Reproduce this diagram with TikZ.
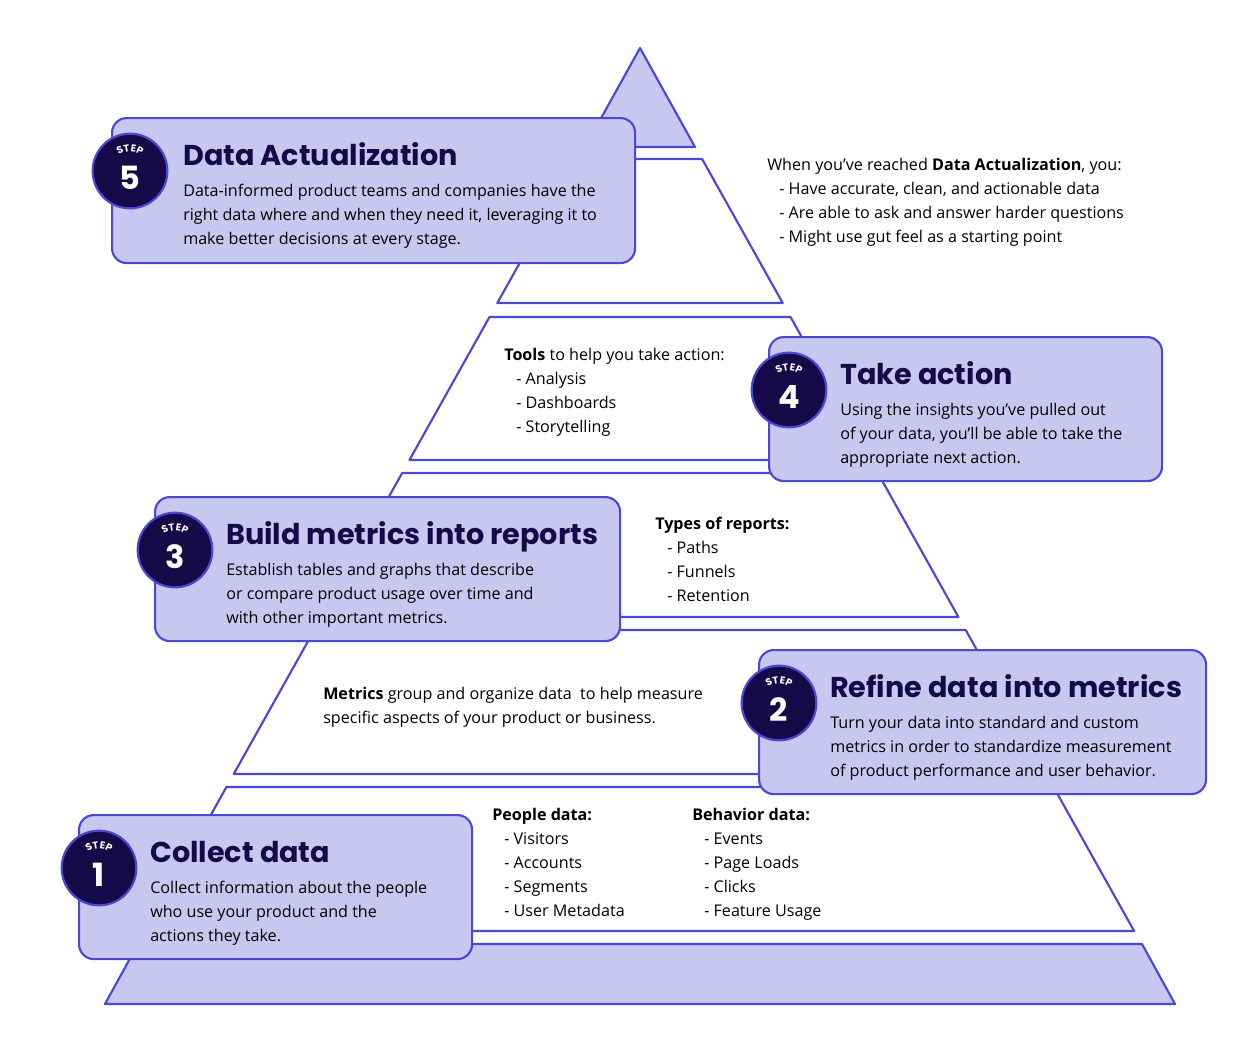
\documentclass[tikz,border=0pt]{standalone}
\usepackage{fontspec}
\setmainfont{Open Sans}
\newfontfamily\headfont{Poppins}
\usetikzlibrary{positioning}
\definecolor{lavender}{HTML}{C8C7F0}
\definecolor{edgeblue}{HTML}{4B48D6}
\definecolor{inkblue}{HTML}{150A47}

\begin{document}
\begin{tikzpicture}[x=0.75pt,y=-0.75pt,
    band/.style={draw=edgeblue, line width=1.6pt, line join=round},
    card/.style={draw=edgeblue, fill=lavender, line width=1.6pt, rounded corners=11pt,
        anchor=north west, minimum height=108pt, inner sep=0pt},
    badge/.style={circle, draw=edgeblue, fill=inkblue, line width=1.6pt, minimum size=56pt, inner sep=0pt},
    stepnum/.style={text=white, font=\headfont\bfseries\fontsize{24}{24}\selectfont},
    steplbl/.style={text=white, inner sep=0pt, font=\headfont\bfseries\fontsize{7.5}{7.5}\selectfont},
    title/.style={anchor=base west, inner sep=0pt, text=inkblue, font=\headfont\bfseries\fontsize{21.5}{21.5}\selectfont},
    body/.style={anchor=base west, inner sep=0pt, align=left, font=\fontsize{12.1}{18}\selectfont}
]
\useasboundingbox (0,0) rectangle (1246,1058);

% Pyramid
\fill[lavender, band] (640,48) -- (585,147) -- (695,147) -- cycle;
\foreach \ta/\tb in {159/303,317/460,473/617,630/774,787/931}
    \draw[band] ({640-0.5596*(\ta-48)},\ta) -- ({640+0.5596*(\ta-48)},\ta)
        -- ({640+0.5596*(\tb-48)},\tb) -- ({640-0.5596*(\tb-48)},\tb) -- cycle;
\fill[lavender, band] (138,944) -- (1142,944) -- (1175,1004) -- (105,1004) -- cycle;

% Side notes (placed at the baseline of their last line)
\node[body] (note5) at (767,242) {When you’ve reached \textbf{Data Actualization}, you:\\
    \hspace*{9pt}- Have accurate, clean, and actionable data\\
    \hspace*{9pt}- Are able to ask and answer harder questions\\
    \hspace*{9pt}- Might use gut feel as a starting point};
\node[body] (note4) at (504,432) {\textbf{Tools} to help you take action:\\
    \hspace*{9pt}- Analysis\\
    \hspace*{9pt}- Dashboards\\
    \hspace*{9pt}- Storytelling};
\node[body] (note3) at (655,601) {\textbf{Types of reports:}\\
    \hspace*{9pt}- Paths\\
    \hspace*{9pt}- Funnels\\
    \hspace*{9pt}- Retention};
\node[body] (note2) at (323,723) {\textbf{Metrics} group and organize data \ to help measure\\
    specific aspects of your product or business.};
\node[body] (people) at (492,916) {\textbf{People data:}\\
    \hspace*{9pt}- Visitors\\
    \hspace*{9pt}- Accounts\\
    \hspace*{9pt}- Segments\\
    \hspace*{9pt}- User Metadata};
\node[body] (behavior) at (692,916) {\textbf{Behavior data:}\\
    \hspace*{9pt}- Events\\
    \hspace*{9pt}- Page Loads\\
    \hspace*{9pt}- Clicks\\
    \hspace*{9pt}- Feature Usage};

% Step 5
\node[card, minimum width=392.25pt, minimum height=108.75pt] (card5) at (111,117) {};
\node[title] (title5) at ([shift={(72,48)}]card5.north west) {Data Actualization};
\node[body] (text5) at ([shift={(72,127)}]card5.north west) {Data-informed product teams and companies have the\\
    right data where and when they need it, leveraging it to\\
    make better decisions at every stage.};
\node[badge] (badge5) at ([shift={(19,54)}]card5.north west) {};
\node[stepnum] (num5) at ([shift={(0,7)}]badge5.center) {5};

% Step 4
\node[card, minimum width=294.75pt] (card4) at (768,336) {};
\node[title] (title4) at ([shift={(72,48)}]card4.north west) {Take action};
\node[body] (text4) at ([shift={(72,127)}]card4.north west) {Using the insights you’ve pulled out\\
    of your data, you’ll be able to take the\\
    appropriate next action.};
\node[badge] (badge4) at ([shift={(21,54)}]card4.north west) {};
\node[stepnum] (num4) at ([shift={(0,7)}]badge4.center) {4};

% Step 3
\node[card, minimum width=348.75pt] (card3) at (154,496) {};
\node[title] (title3) at ([shift={(72,48)}]card3.north west) {Build metrics into reports};
\node[body] (text3) at ([shift={(72,127)}]card3.north west) {Establish tables and graphs that describe\\
    or compare product usage over time and\\
    with other important metrics.};
\node[badge] (badge3) at ([shift={(21,54)}]card3.north west) {};
\node[stepnum] (num3) at ([shift={(0,7)}]badge3.center) {3};

% Step 2
\node[card, minimum width=335.25pt] (card2) at (758,649) {};
\node[title] (title2) at ([shift={(72,48)}]card2.north west) {Refine data into metrics};
\node[body] (text2) at ([shift={(72,127)}]card2.north west) {Turn your data into standard and custom\\
    metrics in order to standardize measurement\\
    of product performance and user behavior.};
\node[badge] (badge2) at ([shift={(21,54)}]card2.north west) {};
\node[stepnum] (num2) at ([shift={(0,7)}]badge2.center) {2};

% Step 1
\node[card, minimum width=294.75pt] (card1) at (78,814) {};
\node[title] (title1) at ([shift={(72,48)}]card1.north west) {Collect data};
\node[body] (text1) at ([shift={(72,127)}]card1.north west) {Collect information about the people\\
    who use your product and the\\
    actions they take.};
\node[badge] (badge1) at ([shift={(21,54)}]card1.north west) {};
\node[stepnum] (num1) at ([shift={(0,7)}]badge1.center) {1};

% "STEP" round the top of each badge
\foreach \b in {badge1,badge2,badge3,badge4,badge5}
    \foreach \l/\a in {S/116,T/99,E/81,P/64}
        \node[steplbl, rotate=\a-90] at ([shift={(-\a:23)}]\b.center) {\l};
\end{tikzpicture}
\end{document}
